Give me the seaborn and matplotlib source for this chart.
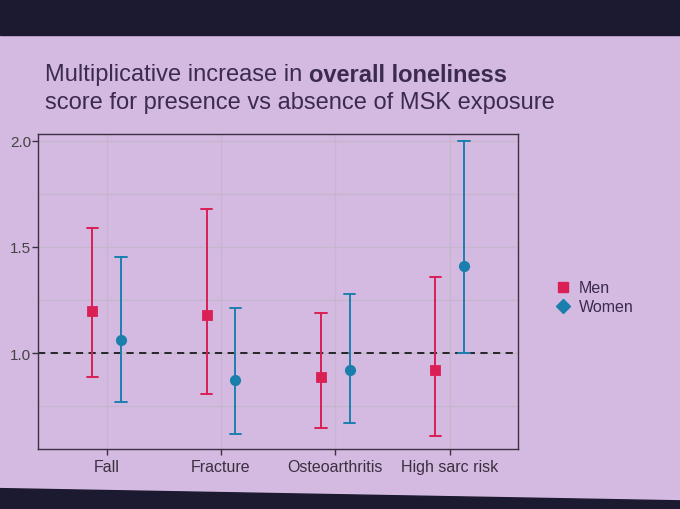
import pandas as pd
import matplotlib.pyplot as plt
import seaborn as sns
from matplotlib.patches import Polygon
from matplotlib.lines import Line2D

# values
exposures = ["Fall", "Fracture", "Osteoarthritis", "High sarc risk"]
men_est = [1.20, 1.18, 0.89, 0.92]
men_lo = [0.89, 0.81, 0.65, 0.61]
men_hi = [1.59, 1.68, 1.19, 1.36]
women_est = [1.06, 0.875, 0.92, 1.41]
women_lo = [0.77, 0.62, 0.67, 1.00]
women_hi = [1.45, 1.21, 1.28, 2.00]

# three rows per group: median = estimate, min/max = interval
rows = []
for sex, est, lo, hi in [("Men", men_est, men_lo, men_hi),
                         ("Women", women_est, women_lo, women_hi)]:
    for i, exp in enumerate(exposures):
        for v in (lo[i], est[i], hi[i]):
            rows.append({"exposure": exp, "sex": sex, "value": v})
df = pd.DataFrame(rows)

sns.set_theme(style="white")
plt.rcParams["font.family"] = ["Liberation Sans", "DejaVu Sans"]

bg = "#d4b9e1"
txt = "#3b2b4c"
colors = {"Men": "#da1f55", "Women": "#1b7fae"}

fig = plt.figure(figsize=(6.8, 5.1), dpi=100, facecolor=bg)
# dark photo surround above and below the slide
fig.patches.append(Polygon([(0, 0.93), (1, 0.93), (1, 1), (0, 1)], closed=True,
                           transform=fig.transFigure, color="#1c1a30", zorder=-1))
fig.patches.append(Polygon([(0, 0), (1, 0), (1, 0.016), (0, 0.04)], closed=True,
                           transform=fig.transFigure, color="#1c1a30", zorder=-1))

ax = fig.add_axes([0.056, 0.118, 0.706, 0.617])
ax.set_facecolor(bg)

sns.pointplot(data=df, x="exposure", y="value", hue="sex", order=exposures,
              hue_order=["Men", "Women"], palette=colors,
              estimator="median", errorbar=lambda v: (v.min(), v.max()),
              markers=["s", "o"], linestyles="none", dodge=0.25,
              capsize=0.1, err_kws={"linewidth": 1.4}, markersize=6,
              legend=False, ax=ax)

ax.axhline(1.0, color="#1a1a1a", linestyle=(0, (4, 3)), linewidth=1.3, zorder=1)

ax.set_xlim(-0.6, 3.6)
ax.set_ylim(0.55, 2.03)
ax.set_yticks([1.0, 1.5, 2.0])
ax.set_yticks([0.75, 1.25, 1.75], minor=True)
ax.grid(True, which="both", color="#c6b6d0", linewidth=1.0)
ax.set_axisbelow(True)
for s in ax.spines.values():
    s.set_color("#3a3040")
    s.set_linewidth(1.0)
ax.tick_params(axis="both", which="major", length=4, width=1, color="#3a3040",
               labelsize=11.5, labelcolor="#3a3040", left=True, bottom=True, pad=3)
ax.tick_params(axis="y", which="minor", length=0)
ax.tick_params(axis="y", which="major", labelsize=11, pad=1)
ax.set_xlabel("")
ax.set_ylabel("")
ax.set_yticklabels(["1.0", "1.5", "2.0"], color="#444444")

handles = [Line2D([], [], color=colors[k], marker=m, markersize=7, linestyle="none")
           for k, m in [("Men", "s"), ("Women", "D")]]
fig.legend(handles, ["Men", "Women"], loc="center left", bbox_to_anchor=(0.795, 0.415),
           frameon=False, fontsize=11.5, labelcolor=txt, handletextpad=0.5,
           labelspacing=0.25, handlelength=1.0)

# two-line title, bold phrase inside first line
t1 = fig.text(0.066, 0.852, "Multiplicative increase in ", fontsize=17, color=txt,
              va="center")
fig.canvas.draw()
bb = t1.get_window_extent()
fig.text(bb.x1 / fig.bbox.width, 0.852, "overall loneliness", fontsize=17,
         color=txt, fontweight="bold", va="center")
fig.text(0.066, 0.798, "score for presence vs absence of MSK exposure", fontsize=17,
         color=txt, va="center")

fig.savefig("out.png", dpi=100, facecolor=bg)
